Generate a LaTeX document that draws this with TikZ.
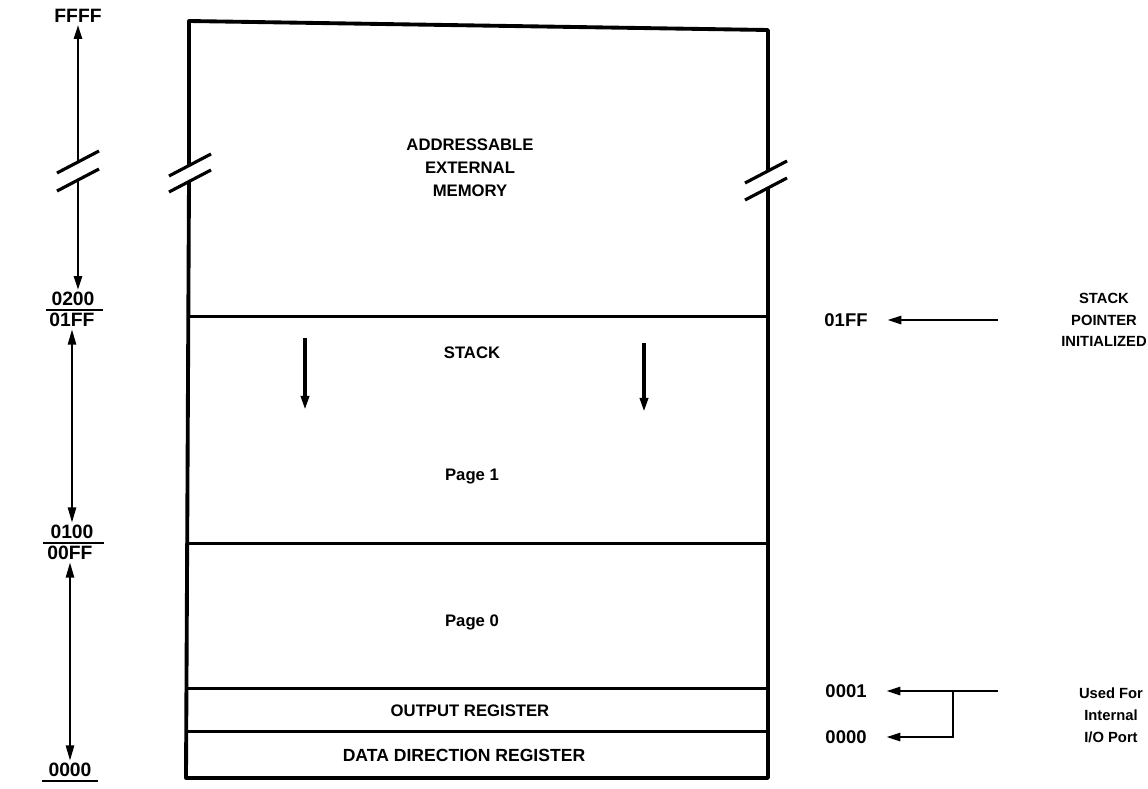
\documentclass[tikz,border=0pt]{standalone}
\usepackage{fontspec}
\setmainfont{Liberation Sans}
\usetikzlibrary{arrows.meta,positioning,calc}

\begin{document}
\begin{tikzpicture}[
    x=0.02cm,y=-0.02cm,
    font=\fontsize{9.5}{11}\selectfont\bfseries,
    lbl/.style={inner sep=1pt},
    addr/.style={lbl,font=\fontsize{11}{12}\selectfont\bfseries},
    note/.style={lbl,align=center,font=\fontsize{8.4}{12.4}\selectfont\bfseries},
    wall/.style={line width=2.2pt,line join=round},
    split/.style={line width=1.7pt},
    brk/.style={line width=1.8pt},
    rule/.style={line width=1.4pt},
    span/.style={{Triangle[length=9pt,width=4.5pt]}-{Triangle[length=9pt,width=4.5pt]},line width=1.6pt},
    ptr/.style={-{Triangle[length=8pt,width=4.5pt]},line width=1.6pt}
]
\useasboundingbox (0,0) rectangle (1148,788);

% memory map outline, cut at the breaks
\draw[wall] (189,165) -- (189,21) -- (768,30) -- (768,172);
\draw[wall] (768,189) -- (768,778) -- (186,778) -- (189,181);
\foreach \y in {316,543,688,731}
    \draw[split] (188,\y) -- (768,\y);
\foreach \x/\y in {78/162,78/180,190/165,190/181,766/172,766/189}
    \draw[brk] (\x-21,\y+11) -- (\x+21,\y-11);

% regions
\node[lbl,align=center] (ext) at (470,168) {ADDRESSABLE\\[2pt]EXTERNAL\\[2pt]MEMORY};
\node[lbl] (stack) at (472,353) {STACK};
\node[lbl] (page1) at (472,477) {Page 1};
\node[lbl] (page0) at (472,622) {Page 0};
\node[lbl] (outreg) at (470,711) {OUTPUT REGISTER};
\node[lbl,font=\fontsize{10}{11}\selectfont\bfseries] (ddr) at (464,755) {DATA DIRECTION REGISTER};

% stack growth
\coordinate (gl1) at (305,338); \coordinate (gl2) at (305,410);
\coordinate (gr1) at (644,343); \coordinate (gr2) at (644,412);
\draw[ptr,line width=2pt] (gl1) -- (gl2);
\draw[ptr,line width=2pt] (gr1) -- (gr2);

% address scale
\node[addr] (ffff) at (78,16) {FFFF};
\node[addr,anchor=south] (a0200) at (73,308) {0200};
\node[addr,anchor=north] (a01ff) at (72,311) {01FF};
\node[addr,anchor=south] (a0100) at (72,541) {0100};
\node[addr,anchor=north] (a00ff) at (70,544) {00FF};
\node[addr,anchor=south] (a0000) at (70,779) {0000};
\draw[rule] (46,310) -- (103,310);
\draw[rule] (43,543) -- (104,543);
\draw[rule] (42,781) -- (98,781);
\coordinate (cut1) at (78,162); \coordinate (cut2) at (78,180);
\draw[ptr] (cut1) -- (ffff);
\draw[ptr] (cut2) -- (cut2 |- a0200.north);
\draw[span] (a01ff) -- (a0100);
\draw[span] (a00ff) -- (a0000);

% stack pointer
\node[note] (sp) at (1104,320) {STACK\\POINTER\\INITIALIZED};
\node[addr,font=\fontsize{10.5}{12}\selectfont\bfseries] (sp01ff) at (846,320) {01FF};
\coordinate (spin) at (998,320);
\draw[ptr,shorten >=10pt] (spin) -- (sp01ff);

% i/o port
\node[note] (io) at (1111,715) {Used For\\Internal\\I/O Port};
\node[addr,font=\fontsize{10.5}{12}\selectfont\bfseries] (io0001) at (846,691) {0001};
\node[addr,font=\fontsize{10.5}{12}\selectfont\bfseries] (io0000) at (846,737) {0000};
\coordinate (ioin) at (998,691);
\coordinate (iofork) at (953,691);
\draw[ptr,shorten >=10pt] (ioin) -- (io0001);
\draw[ptr,shorten >=10pt] (iofork) |- (io0000);
\end{tikzpicture}
\end{document}
